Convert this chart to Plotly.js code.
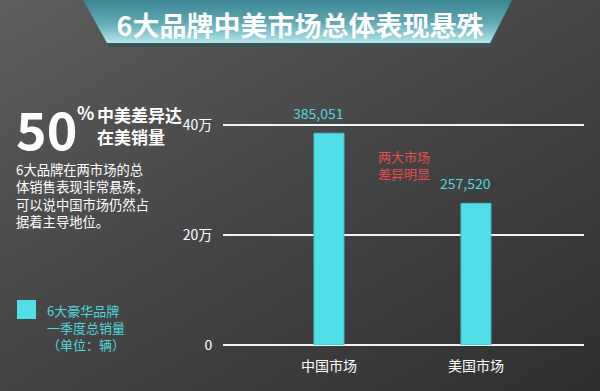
<!DOCTYPE html>
<html>
<head>
<meta charset="utf-8">
<script src="https://cdn.plot.ly/plotly-3.0.1.min.js"></script>
<style>
  html, body { margin:0; padding:0; }
  body { width:600px; height:391px; overflow:hidden;
    background: linear-gradient(150deg, #5e5e5e 0%, #474747 45%, #2f2f2f 100%); }
  #wrap { position:relative; width:600px; height:391px; }
  .banshadow { position:absolute; left:0; top:0; width:600px; height:48px; background:#3a5558;
    clip-path: polygon(83px 0, 512px 0, 491px 47px, 109px 47px); }
  .banner { position:absolute; left:0; top:0; width:600px; height:48px;
    background: linear-gradient(180deg, #3c8593 0%, #5ea6b2 45%, #9fd9df 80%, #d8f7f8 100%);
    clip-path: polygon(83px 0, 512px 0, 490px 43px, 107px 43px); }
  #chart { position:absolute; left:0; top:0; width:600px; height:391px; }
</style>
</head>
<body>
<div id="wrap">
  <div class="banshadow"></div>
  <div class="banner"></div>
  <div id="chart"></div>
</div>
<script>
// ---- data ----
const titleText = "6大品牌中美市场总体表现悬殊";
const categories = ["中国市场", "美国市场"];
const sales = [385051, 257520];
const salesLabels = ["385,051", "257,520"];
const yTickVals = [0, 200000, 400000];
const yTickText = ["0", "20万", "40万"];
const bigNumber = "50";
const bigUnit = "%";
const headlineLines = ["中美差异达", "在美销量"];
const bodyLines = ["6大品牌在两市场的总", "体销售表现非常悬殊，", "可以说中国市场仍然占", "据着主导地位。"];
const noteLines = ["两大市场", "差异明显"];
const legendLines = ["6大豪华品牌", "一季度总销量", "（单位：辆）"];

// ---- layout helpers (pixel -> paper) ----
const L = 223, Rr = 584, T = 103, B = 345;
const W = Rr - L, H = B - T;
const px = x => (x - L) / W;
const py = y => (B - y) / H;
const FONT = '"Noto Sans CJK SC", "Noto Sans", sans-serif';
const CYAN = '#50dfe8';
const CYAN_TXT = '#4fd6df';

const annotations = [];
// value labels
categories.forEach((c, i) => {
  annotations.push({
    x: c, y: sales[i], xref: 'x', yref: 'y', text: salesLabels[i],
    showarrow: false, yanchor: 'bottom', xanchor: 'center', xshift: -10, yshift: 8,
    font: { family: FONT, size: 14, color: CYAN_TXT }
  });
});
// red note
annotations.push({
  x: px(376), y: py(165), xref: 'paper', yref: 'paper', text: noteLines.join('<br>'),
  showarrow: false, xanchor: 'left', yanchor: 'middle', align: 'left',
  font: { family: FONT, size: 13, color: '#e8494e' }
});
// big number
annotations.push({
  x: px(14), y: py(127), xref: 'paper', yref: 'paper', text: bigNumber,
  showarrow: false, xanchor: 'left', yanchor: 'middle',
  font: { family: FONT, size: 52, color: '#ffffff', weight: 'bold' }
});
annotations.push({
  x: px(75), y: py(112), xref: 'paper', yref: 'paper', text: bigUnit,
  showarrow: false, xanchor: 'left', yanchor: 'middle',
  font: { family: FONT, size: 18, color: '#ffffff', weight: 'bold' }
});
annotations.push({
  x: px(95), y: py(125.5), xref: 'paper', yref: 'paper', text: headlineLines.join('<br>'),
  showarrow: false, xanchor: 'left', yanchor: 'middle', align: 'left',
  font: { family: FONT, size: 17, color: '#ffffff', weight: 'bold' }
});
annotations.push({
  x: px(14), y: py(195.5), xref: 'paper', yref: 'paper', text: bodyLines.join('<br>'),
  showarrow: false, xanchor: 'left', yanchor: 'middle', align: 'left',
  font: { family: FONT, size: 13.3, color: '#ffffff' }
});
annotations.push({
  x: px(45), y: py(327), xref: 'paper', yref: 'paper', text: legendLines.join('<br>'),
  showarrow: false, xanchor: 'left', yanchor: 'middle', align: 'left',
  font: { family: FONT, size: 13, color: CYAN_TXT }
});

const trace = {
  type: 'bar', x: categories, y: sales, width: 0.204,
  marker: { color: CYAN, line: { color: '#3fc4cc', width: 1 } },
  hoverinfo: 'skip', cliponaxis: false
};

const layout = {
  width: 600, height: 391,
  margin: { l: L, r: 600 - Rr, t: T, b: 391 - B, pad: 0 },
  paper_bgcolor: 'rgba(0,0,0,0)', plot_bgcolor: 'rgba(0,0,0,0)',
  showlegend: false,
  title: {
    text: titleText, x: 0.5, xanchor: 'center', y: 1 - 27 / 391, yanchor: 'middle',
    font: { family: FONT, size: 27, color: '#ffffff', weight: 'bold' }
  },
  xaxis: {
    type: 'category', range: [-0.721, 1.735], showgrid: false, zeroline: false, showline: false,
    ticks: 'outside', ticklen: 8, tickcolor: 'rgba(0,0,0,0)',
    tickfont: { family: FONT, size: 14, color: '#ffffff' }, fixedrange: true
  },
  yaxis: {
    range: [0, 440000], tickvals: yTickVals, ticktext: yTickText,
    showgrid: true, gridcolor: '#f2f2f2', gridwidth: 2,
    zeroline: true, zerolinecolor: '#f2f2f2', zerolinewidth: 2, showline: false,
    ticks: 'outside', ticklen: 7, tickcolor: 'rgba(0,0,0,0)',
    tickfont: { family: FONT, size: 14, color: '#ffffff' }, fixedrange: true
  },
  shapes: [{
    type: 'rect', xref: 'paper', yref: 'paper',
    x0: px(17), x1: px(36), y0: py(319), y1: py(300),
    fillcolor: CYAN, line: { width: 0 }
  }],
  annotations: annotations
};

Plotly.newPlot('chart', [trace], layout, { displayModeBar: false, staticPlot: true });
</script>
</body>
</html>
